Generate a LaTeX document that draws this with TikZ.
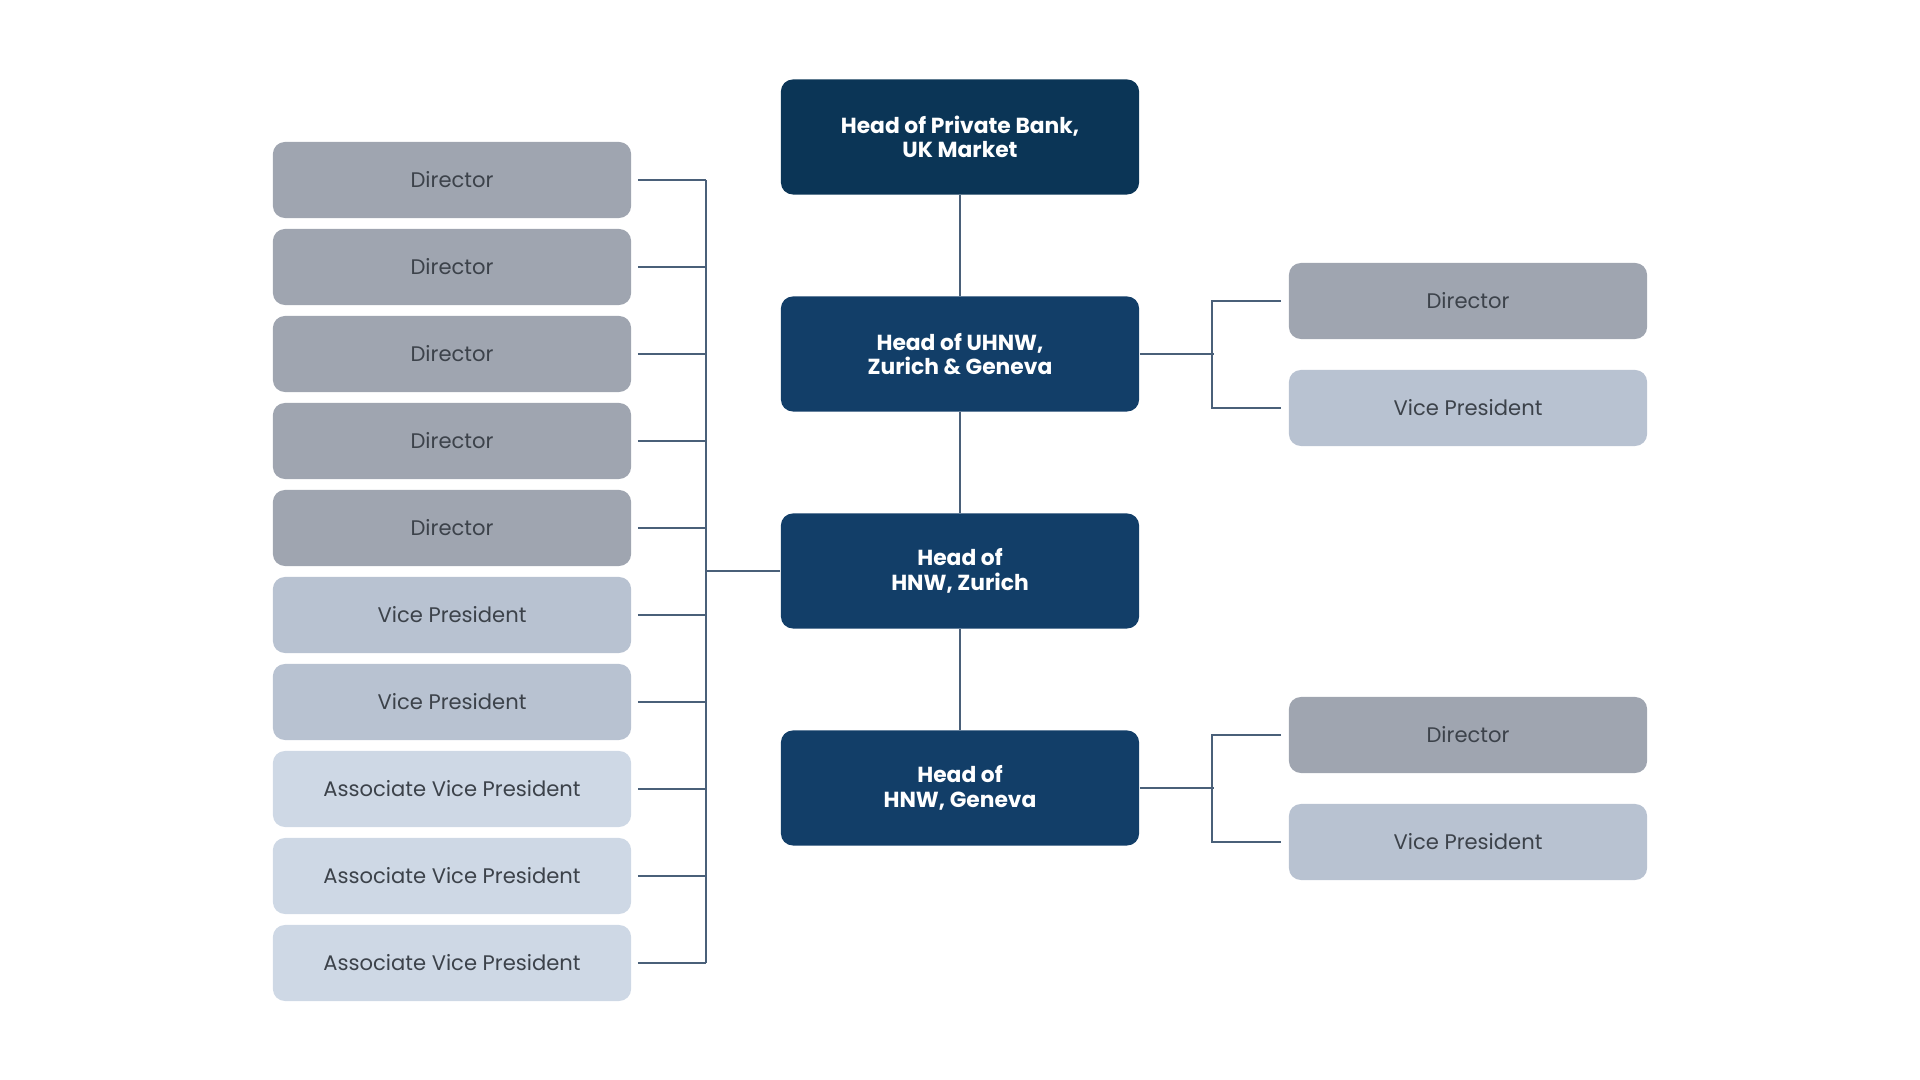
\documentclass[tikz,border=0pt]{standalone}
\usepackage{fontspec}
\setmainfont{Poppins}
\usetikzlibrary{positioning, calc}
\definecolor{headtop}{RGB}{11, 53, 86}
\definecolor{headblue}{RGB}{18, 62, 104}
\definecolor{dirgray}{RGB}{159, 165, 176}
\definecolor{vpgray}{RGB}{184, 194, 209}
\definecolor{avpgray}{RGB}{206, 216, 229}
\definecolor{roletext}{RGB}{60, 66, 74}
\definecolor{linkblue}{RGB}{74, 96, 121}

\begin{document}
\begin{tikzpicture}[
        x=0.01cm, y=-0.01cm,
        head/.style={fill=headblue, rounded corners=0.12cm, minimum width=3.58cm, minimum height=1.15cm,
            align=center, text=white, font=\fontsize{6.2}{7}\selectfont\bfseries, inner sep=0pt},
        role/.style={rounded corners=0.12cm, minimum width=3.58cm, minimum height=0.76cm,
            text=roletext, font=\fontsize{6}{7}\selectfont, inner sep=0pt},
        link/.style={draw=linkblue, line width=0.6pt}
    ]
    \useasboundingbox (0,0) rectangle (1920,1080);

    % Mittlere Spalte
    \node[head, fill=headtop] (H1) at (960,137) {Head of Private Bank,\\UK Market};
    \node[head] (H2) at (960,354) {Head of UHNW,\\Zurich \& Geneva};
    \node[head] (H3) at (960,571) {Head of\\HNW, Zurich};
    \node[head] (H4) at (960,788) {Head of\\HNW, Geneva};

    % Linke Spalte
    \node[role, fill=dirgray] (L1) at (452,180) {Director};
    \node[role, fill=dirgray] (L2) at (452,267) {Director};
    \node[role, fill=dirgray] (L3) at (452,354) {Director};
    \node[role, fill=dirgray] (L4) at (452,441) {Director};
    \node[role, fill=dirgray] (L5) at (452,528) {Director};
    \node[role, fill=vpgray] (L6) at (452,615) {Vice President};
    \node[role, fill=vpgray] (L7) at (452,702) {Vice President};
    \node[role, fill=avpgray] (L8) at (452,789) {Associate Vice President};
    \node[role, fill=avpgray] (L9) at (452,876) {Associate Vice President};
    \node[role, fill=avpgray] (L10) at (452,963) {Associate Vice President};

    % Rechte Spalte
    \node[role, fill=dirgray] (R1) at (1468,301) {Director};
    \node[role, fill=vpgray] (R2) at (1468,408) {Vice President};
    \node[role, fill=dirgray] (R3) at (1468,735) {Director};
    \node[role, fill=vpgray] (R4) at (1468,842) {Vice President};

    % Verbindungen
    \draw[link] (H1.south) -- (H2.north);
    \draw[link] (H2.south) -- (H3.north);
    \draw[link] (H3.south) -- (H4.north);

    \coordinate (lbus) at ([xshift=0.74cm]L1.east);
    \foreach \i in {1,...,10}
        \draw[link] ([xshift=0.06cm]L\i.east) -- ++(68,0);
    \draw[link] (lbus) -- (lbus |- L10.east);
    \draw[link] (H3.west) -- (H3.west -| lbus);

    \draw[link] (H2.east) -- ++(74,0);
    \draw[link] ([xshift=-0.07cm]R1.west) -- ++(-69,0) |- ([xshift=-0.07cm]R2.west);
    \draw[link] (H4.east) -- ++(74,0);
    \draw[link] ([xshift=-0.07cm]R3.west) -- ++(-69,0) |- ([xshift=-0.07cm]R4.west);
\end{tikzpicture}
\end{document}
